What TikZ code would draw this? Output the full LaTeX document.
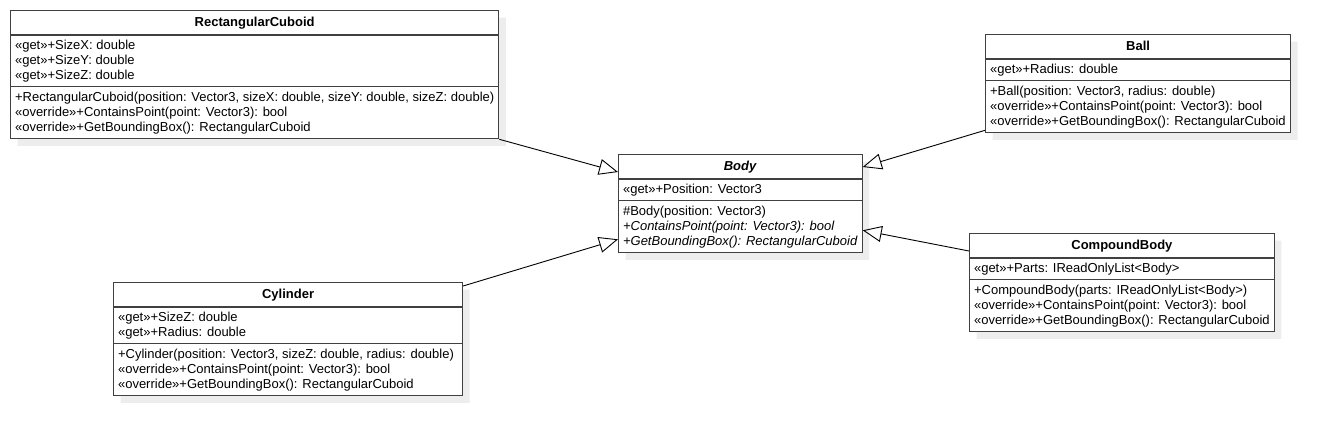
\documentclass[tikz,border=0pt]{standalone}
\usepackage{fontspec}
\setmainfont{Liberation Sans}
\usetikzlibrary{shapes.multipart,arrows.meta,shadows}
\newcommand{\rowstrut}{\rule[-4pt]{0pt}{15pt}}
\newcommand{\headstrut}{\rule[-5.5pt]{0pt}{17.5pt}}

\begin{document}
\begin{tikzpicture}[
  x=1pt, y=-1pt,
  umlclass/.style={rectangle split, rectangle split parts=3, draw=black!75, line width=1.1pt, fill=white,
    rectangle split part align={center,left,left}, align=left, inner xsep=4.5pt, inner ysep=2.9pt,
    font=\fontsize{13}{15}\selectfont, anchor=north west,
    drop shadow={shadow xshift=7pt, shadow yshift=-7pt, fill=black!7, opacity=1}},
  inherit/.style={-{Triangle[open, length=19pt, width=16pt]}, line width=0.9pt}
]
  \useasboundingbox[fill=white] (0,0) rectangle (1329,437);

  % Abstract base class
  \node[umlclass, minimum width=242pt] (body) at (618,154) {\headstrut\textbf{\textit{Body}}
    \nodepart{two}\rowstrut«get»+Position: Vector3
    \nodepart{three}\rowstrut\#Body(position: Vector3)\\
    \rowstrut\textit{+ContainsPoint(point: Vector3): bool}\\
    \rowstrut\textit{+GetBoundingBox(): RectangularCuboid}};

  % Derived classes
  \node[umlclass, minimum width=488pt] (cuboid) at (10,10) {\headstrut\textbf{RectangularCuboid}
    \nodepart{two}\rowstrut«get»+SizeX: double\\
    \rowstrut«get»+SizeY: double\\
    \rowstrut«get»+SizeZ: double
    \nodepart{three}\rowstrut+RectangularCuboid(position: Vector3, sizeX: double, sizeY: double, sizeZ: double)\\
    \rowstrut«override»+ContainsPoint(point: Vector3): bool\\
    \rowstrut«override»+GetBoundingBox(): RectangularCuboid};

  \node[umlclass, minimum width=305pt] (ball) at (985,34) {\headstrut\textbf{Ball}
    \nodepart{two}\rowstrut«get»+Radius: double
    \nodepart{three}\rowstrut+Ball(position: Vector3, radius: double)\\
    \rowstrut«override»+ContainsPoint(point: Vector3): bool\\
    \rowstrut«override»+GetBoundingBox(): RectangularCuboid};

  \node[umlclass, minimum width=304pt] (compound) at (969,233) {\headstrut\textbf{CompoundBody}
    \nodepart{two}\rowstrut«get»+Parts: IReadOnlyList<Body>
    \nodepart{three}\rowstrut+CompoundBody(parts: IReadOnlyList<Body>)\\
    \rowstrut«override»+ContainsPoint(point: Vector3): bool\\
    \rowstrut«override»+GetBoundingBox(): RectangularCuboid};

  \node[umlclass, minimum width=349pt] (cylinder) at (113,282) {\headstrut\textbf{Cylinder}
    \nodepart{two}\rowstrut«get»+SizeZ: double\\
    \rowstrut«get»+Radius: double
    \nodepart{three}\rowstrut+Cylinder(position: Vector3, sizeZ: double, radius: double)\\
    \rowstrut«override»+ContainsPoint(point: Vector3): bool\\
    \rowstrut«override»+GetBoundingBox(): RectangularCuboid};

  % Generalizations
  \draw[inherit] (cuboid.south east) -- ([yshift=-18pt]body.north west);
  \draw[inherit] ([yshift=3pt]ball.south west) -- ([yshift=-13pt]body.north east);
  \draw[inherit] ([yshift=-4pt]cylinder.north east) -- ([yshift=14pt]body.south west);
  \draw[inherit] ([yshift=-18pt]compound.north west) -- ([yshift=23pt]body.south east);
\end{tikzpicture}
\end{document}
